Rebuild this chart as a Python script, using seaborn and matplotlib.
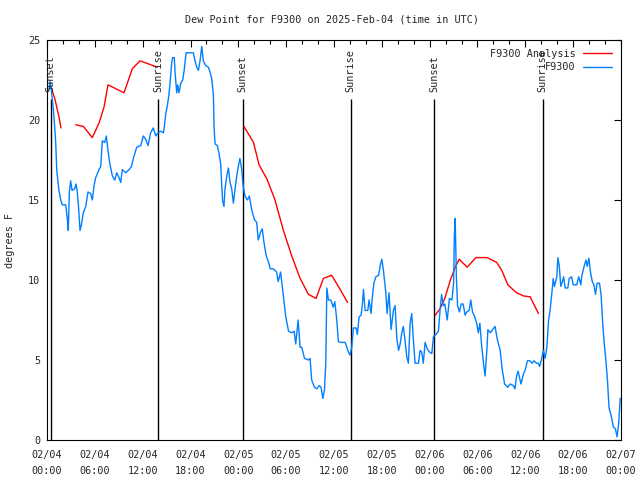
import numpy as np
import pandas as pd
import seaborn as sns
import matplotlib.pyplot as plt
from matplotlib.lines import Line2D

# hours since 2025-02-04 00:00 UTC
ana_hours = [0.4, 1.0, 1.5, 1.75,
             3.6, 4.56, 5.68, 6.52, 7.15, 7.65, 9.66, 10.7, 11.67, 13.84,
             24.7, 25.9, 26.6, 27.6, 28.6, 29.65, 30.7, 31.75, 32.8, 33.75, 34.67, 35.7, 36.55, 37.7,
             48.7, 49.3, 49.9, 50.6, 51.2, 51.7, 52.7, 53.8, 55.2, 56.4, 57.05, 57.8, 58.9, 59.8, 60.6, 61.65]
ana_dewpt = [22.2, 21.3, 20.2, 19.5,
             19.7, 19.6, 18.9, 19.8, 20.8, 22.2, 21.7, 23.2, 23.7, 23.3,
             19.6, 18.6, 17.2, 16.3, 15.0, 13.1, 11.5, 10.1, 9.1, 8.85, 10.1, 10.3, 9.6, 8.6,
             7.8, 8.2, 8.85, 10.0, 10.8, 11.3, 10.8, 11.4, 11.4, 11.1, 10.6, 9.7, 9.2, 9.0, 8.95, 7.9]
ana_segment = [0] * 4 + [1] * 10 + [2] * 14 + [3] * 16

obs_hours = [0.25, 0.38, 0.54, 0.79, 0.96, 1.09, 1.22, 1.38, 1.5, 1.72, 1.92, 2.35, 2.55, 2.67, 2.8,
             2.97, 3.14, 3.47, 3.64, 3.8, 3.98, 4.14, 4.3, 4.55, 4.86, 5.14, 5.48, 5.68, 5.9, 6.11,
             6.52, 6.74, 6.94, 7.24, 7.44, 7.65, 7.87, 8.2, 8.5, 8.75, 9.03, 9.25, 9.45, 9.87, 10.3,
             10.6, 10.83, 11.25, 11.76, 12.08, 12.38, 12.67, 13.0, 13.33, 13.64, 13.93, 14.27, 14.6,
             14.72, 14.9, 15.1, 15.3, 15.43, 15.65, 15.77, 15.97, 16.06, 16.27, 16.4, 16.56, 16.78,
             17.03, 17.23, 17.44, 18.36, 18.57, 18.78, 18.99, 19.2, 19.41, 19.6, 19.9, 20.24, 20.45,
             20.66, 20.87, 20.95, 21.08, 21.37, 21.58, 21.8, 21.92, 22.04, 22.2, 22.33, 22.55, 22.75,
             22.96, 23.17, 23.38, 23.59, 23.8, 24.0, 24.2, 24.43, 24.56, 24.63, 24.84, 25.13, 25.38,
             25.68, 26.0, 26.3, 26.5, 26.8, 27.0, 27.2, 27.5, 27.8, 28.0, 28.4, 28.8, 29.0, 29.3,
             29.65, 29.95, 30.3, 30.7, 31.0, 31.2, 31.5, 31.75, 31.95, 32.3, 32.8, 33.0, 33.2, 33.55,
             33.84, 34.13, 34.38, 34.6, 34.8, 34.97, 35.1, 35.3, 35.6, 35.9, 36.1, 36.35, 36.55,
             36.85, 37.4, 37.73, 38.0, 38.23, 38.43, 38.77, 38.93, 39.15, 39.4, 39.56, 39.7, 39.9,
             40.24, 40.4, 40.65, 40.8, 41.0, 41.25, 41.6, 41.8, 42.0, 42.2, 42.5, 42.66, 42.9, 43.16,
             43.45, 43.66, 43.88, 44.1, 44.3, 44.5, 44.7, 44.9, 45.13, 45.33, 45.55, 45.75, 45.96,
             46.17, 46.6, 46.8, 47.0, 47.2, 47.43, 47.7, 47.97, 48.27, 48.47, 48.7, 49.1, 49.3, 49.5,
             49.7, 49.9, 50.2, 50.48, 50.8, 51.0, 51.1, 51.2, 51.35, 51.5, 51.73, 51.95, 52.2, 52.45,
             52.65, 52.95, 53.16, 53.37, 53.58, 53.9, 54.1, 54.3, 54.5, 54.75, 54.95, 55.2, 55.3,
             55.6, 55.9, 56.2, 56.5, 56.85, 57.1, 57.4, 57.8, 58.1, 58.5, 58.7, 58.9, 59.1, 59.45,
             59.75, 60.0, 60.26, 60.55, 60.85, 61.1, 61.4, 61.6, 61.8, 62.05, 62.27, 62.48, 62.7,
             62.9, 63.1, 63.33, 63.5, 63.65, 63.8, 63.95, 64.08, 64.25, 64.45, 64.65, 64.8, 65.0,
             65.33, 65.5, 65.8, 66.0, 66.45, 66.7, 66.96, 67.1, 67.4, 67.6, 67.76, 67.97, 68.2, 68.4,
             68.6, 68.8, 69.0, 69.3, 69.5, 69.7, 69.9, 70.1, 70.3, 70.5, 70.75, 71.05, 71.3, 71.5,
             71.7, 71.9]
obs_dewpt = [21.9, 22.4, 21.9, 20.7, 19.6, 18.6, 16.9, 16.1, 15.6, 15.0, 14.7, 14.7, 13.8, 13.1, 15.5,
             16.2, 15.6, 15.7, 16.0, 15.5, 14.4, 13.1, 13.4, 14.2, 14.6, 15.5, 15.4, 15.0, 15.9, 16.4,
             16.9, 17.1, 18.7, 18.6, 19.0, 18.1, 17.3, 16.5, 16.25, 16.7, 16.4, 16.1, 16.9, 16.7, 16.9,
             17.1, 17.6, 18.3, 18.4, 19.0, 18.8, 18.4, 19.2, 19.5, 19.0, 19.2, 19.3, 19.2,
             19.6, 20.4, 20.9, 21.6, 22.3, 23.6, 23.9, 23.9, 23.0, 21.7, 22.2, 21.7, 22.3,
             22.5, 23.2, 24.2, 24.2, 23.7, 23.3, 23.1, 23.7, 24.6, 23.7, 23.4, 23.3, 23.0,
             22.6, 21.6, 19.6, 18.5, 18.4, 17.9, 17.2, 15.8, 14.9, 14.6, 15.7, 16.5, 17.0,
             16.1, 15.7, 14.8, 15.7, 16.5, 17.1, 17.6, 16.9, 16.1, 15.8, 15.25, 15.0, 15.25,
             14.4, 13.8, 13.6, 12.5, 13.0, 13.2, 12.4, 11.5, 11.1, 10.7, 10.7, 10.5, 9.9, 10.5,
             9.0, 7.7, 6.8, 6.7, 6.8, 6.0, 7.5, 5.8, 5.8, 5.1, 5.0, 5.1, 3.75, 3.3,
             3.2, 3.4, 3.3, 2.6, 3.1, 4.8, 9.5, 8.75, 8.75, 8.3, 8.65, 7.5, 6.15,
             6.1, 6.1, 5.6, 5.3, 5.8, 7.0, 7.0, 6.6, 7.7, 7.8, 8.5, 9.4, 8.1,
             8.1, 8.75, 7.9, 8.85, 9.8, 10.2, 10.3, 10.9, 11.3, 10.6, 9.2, 7.9, 9.2, 6.9,
             8.1, 8.4, 6.35, 5.6, 6.0, 6.7, 7.1, 6.25, 5.2, 4.8, 7.3, 7.9, 6.25,
             4.8, 4.8, 5.6, 5.5, 4.8, 6.1, 5.7, 5.5, 5.4, 6.45, 6.55, 6.8, 8.1, 9.1,
             8.4, 8.5, 7.5, 8.85, 8.75, 9.8, 12.8, 13.85, 10.2, 8.4, 8.0, 8.5, 8.5, 7.8,
             8.0, 8.1, 8.75, 8.0, 7.8, 7.3, 6.7, 7.3, 6.0, 4.8, 4.0, 5.8, 6.9,
             6.7, 6.9, 7.1, 6.25, 5.6, 4.4, 3.5, 3.3, 3.5, 3.4, 3.2, 4.0, 4.3, 3.5,
             4.1, 4.4, 4.95, 4.95, 4.8, 4.95, 4.8, 4.8, 4.6, 5.1, 5.6, 5.1, 5.8,
             7.4, 8.1, 9.2, 10.1, 9.6, 9.9, 10.2, 11.4, 10.9, 9.6, 9.9, 10.2, 9.5,
             9.5, 10.1, 10.2, 9.7, 9.7, 10.2, 9.7, 10.3, 10.9, 11.25, 10.85, 11.35, 10.4, 9.9,
             9.7, 9.1, 9.8, 9.8, 9.1, 7.3, 6.0, 5.0, 3.75, 2.0, 1.56, 0.8, 0.7, 0.2,
             1.0, 2.6]

sun_hours = [0.46, 13.97, 24.55, 38.1, 48.6, 62.2]
sun_labels = ["Sunset", "Sunrise", "Sunset", "Sunrise", "Sunset", "Sunrise"]

tick_hours = list(range(0, 73, 6))
tick_labels = ["02/04\n00:00", "02/04\n06:00", "02/04\n12:00", "02/04\n18:00",
               "02/05\n00:00", "02/05\n06:00", "02/05\n12:00", "02/05\n18:00",
               "02/06\n00:00", "02/06\n06:00", "02/06\n12:00", "02/06\n18:00",
               "02/07\n00:00"]

sns.set_style("white")
plt.rcParams['font.family'] = ['DejaVu Sans Mono']
plt.rcParams['font.size'] = 7.3

ana = pd.DataFrame({'hour': ana_hours, 'dewpt': ana_dewpt, 'seg': ana_segment})
obs = pd.DataFrame({'hour': obs_hours, 'dewpt': obs_dewpt})

fig = plt.figure(figsize=(6.4, 4.8), dpi=100)
ax = fig.add_axes([47 / 640, 40 / 480, 574 / 640, 400 / 480])

# sunrise / sunset markers
ax.vlines(sun_hours, 0, 21.3, color='black', lw=1.0)
for h, lab in zip(sun_hours, sun_labels):
    ax.text(h, 21.75, lab, rotation=90, ha='center', va='bottom')

sns.lineplot(data=ana, x='hour', y='dewpt', units='seg', estimator=None, sort=False,
             color='#ff0000', lw=1.0, ax=ax)
sns.lineplot(data=obs, x='hour', y='dewpt', estimator=None, sort=False,
             color='#0080ff', lw=1.0, ax=ax)

ax.set_xlim(0, 72)
ax.set_ylim(0, 25)
ax.set_xticks(tick_hours)
ax.set_xticklabels(tick_labels, linespacing=1.75)
ax.set_xticks(range(0, 73, 2), minor=True)
ax.set_yticks([0, 5, 10, 15, 20, 25])
ax.tick_params(which='both', direction='in', top=True, right=True, color='black')
ax.tick_params(which='major', length=5, width=0.8)
ax.tick_params(which='minor', length=3, width=0.8)
ax.tick_params(axis='x', pad=7)
ax.tick_params(axis='y', pad=5)
for s in ax.spines.values():
    s.set_color('black')
    s.set_linewidth(0.8)

ax.set_xlabel('')
ax.set_ylabel('degrees F', labelpad=9)

handles = [Line2D([], [], color='#ff0000', lw=1.0), Line2D([], [], color='#0080ff', lw=1.0)]
ax.legend(handles, ['F9300 Analysis', 'F9300'], loc='upper right', frameon=False,
          markerfirst=False, handlelength=2.9, handletextpad=0.7, labelspacing=0.35,
          borderaxespad=0.45)

fig.text(0.519, 1 - 19 / 480, 'Dew Point for F9300 on 2025-Feb-04 (time in UTC)',
         ha='center', va='center')

fig.savefig('out.png', dpi=100)
